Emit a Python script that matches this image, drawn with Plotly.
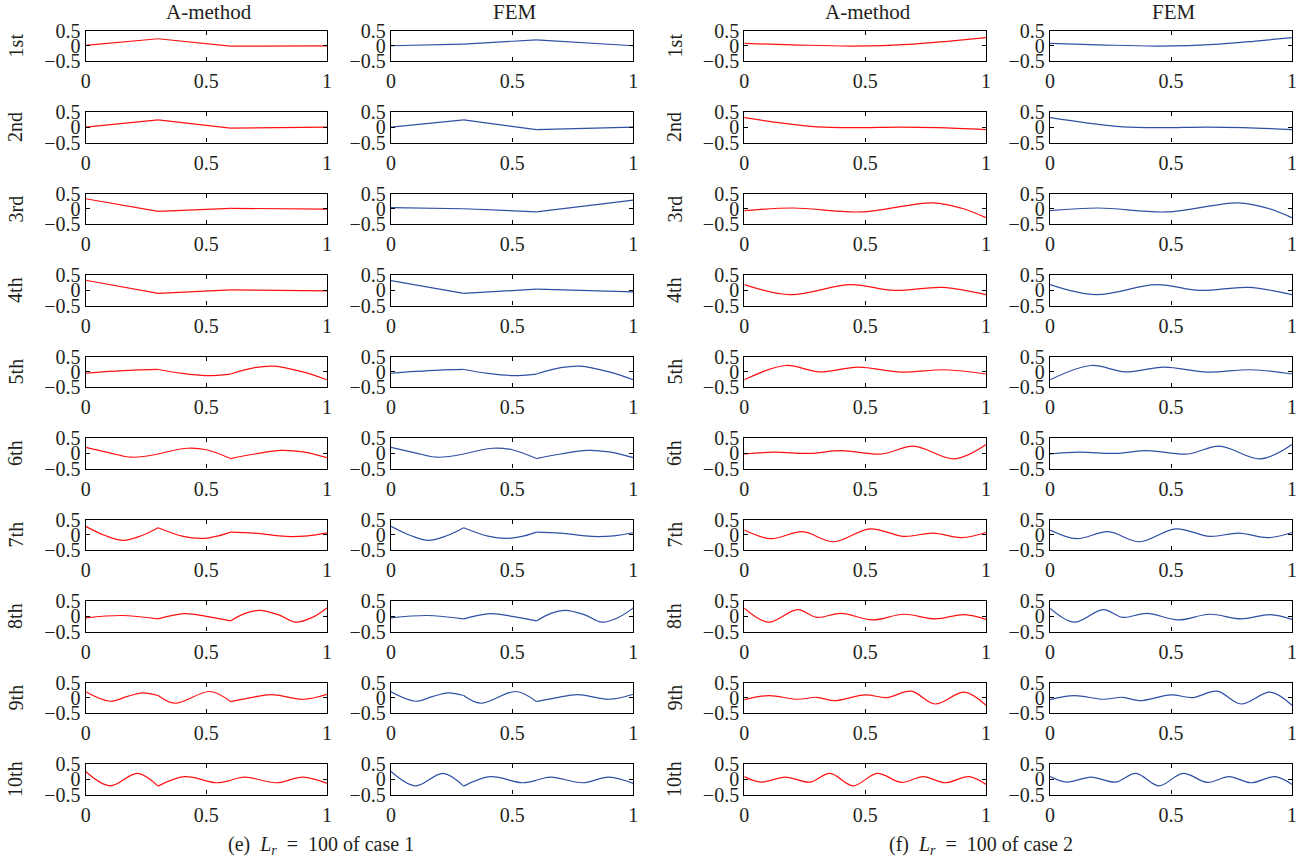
import plotly.graph_objects as go

# ---------------- data ----------------
modes = ["1st", "2nd", "3rd", "4th", "5th", "6th", "7th", "8th", "9th", "10th"]
col_titles = ["A-method", "FEM", "A-method", "FEM"]
x_tickvals = [0, 0.5, 1]
x_ticktext = ["0", "0.5", "1"]
y_tickvals = [-0.5, 0, 0.5]
y_ticktext = ["\u22120.5", "0", "0.5"]
kinks_case1 = [0.0, 0.3, 0.6, 1.0]

# case 1, A-method
c1a_1_x = [0, 0.3, 0.6, 1]
c1a_1_y = [0.015, 0.235, -0.01, 0.0]
c1a_2_x = [0, 0.3, 0.6, 1]
c1a_2_y = [0.01, 0.25, -0.025, 0.01]
c1a_3_x = [0, 0.3, 0.6, 1]
c1a_3_y = [0.335, -0.08, 0.02, -0.01]
c1a_4_x = [0, 0.3, 0.6, 1]
c1a_4_y = [0.335, -0.095, 0.015, -0.015]
c1a_5_x = [0, 0.1, 0.2, 0.3, 0.4, 0.5, 0.6, 0.7, 0.78, 0.9, 1]
c1a_5_y = [-0.045, 0.015, 0.06, 0.08, -0.05, -0.12, -0.07, 0.14, 0.19, 0.0, -0.26]
c1a_6_x = [0, 0.1, 0.19, 0.3, 0.42, 0.5, 0.6, 0.7, 0.81, 0.9, 1]
c1a_6_y = [0.2, 0.02, -0.125, -0.02, 0.17, 0.12, -0.17, -0.02, 0.1, 0.05, -0.14]
c1a_7_x = [0, 0.08, 0.155, 0.23, 0.3, 0.4, 0.48, 0.55, 0.6, 0.7, 0.83, 0.92, 1]
c1a_7_y = [0.28, -0.02, -0.18, -0.03, 0.235, -0.04, -0.115, -0.03, 0.093, 0.06, -0.05, -0.03, 0.07]
c1a_8_x = [0, 0.15, 0.3, 0.41, 0.5, 0.6, 0.66, 0.72, 0.8, 0.87, 0.94, 1]
c1a_8_y = [-0.05, 0.03, -0.08, 0.09, 0.0, -0.15, 0.1, 0.2, 0.05, -0.19, -0.03, 0.28]
c1a_9_x = [0, 0.1, 0.17, 0.235, 0.3, 0.37, 0.515, 0.6, 0.68, 0.77, 0.9, 1]
c1a_9_y = [0.2, -0.11, 0.04, 0.165, 0.08, -0.175, 0.21, -0.12, 0.0, 0.11, -0.045, 0.12]
c1a_10_x = [0, 0.1, 0.215, 0.3, 0.41, 0.54, 0.6, 0.66, 0.79, 0.9, 1]
c1a_10_y = [0.26, -0.21, 0.2, -0.22, 0.09, -0.11, -0.03, 0.077, -0.11, 0.077, -0.13]

# case 1, FEM (modes 1-4 differ from A-method; higher modes coincide)
c1f_1_x = [0, 0.3, 0.6, 1]
c1f_1_y = [0.005, 0.06, 0.2, 0.005]
c1f_2_x = [0, 0.3, 0.6, 1]
c1f_2_y = [0.01, 0.25, -0.075, 0.01]
c1f_3_x = [0, 0.3, 0.6, 1]
c1f_3_y = [0.04, 0.005, -0.095, 0.29]
c1f_4_x = [0, 0.3, 0.6, 1]
c1f_4_y = [0.32, -0.1, 0.04, -0.05]

# case 2 (A-method and FEM coincide)
c2_1_x = [0, 0.2, 0.45, 0.7, 0.85, 1]
c2_1_y = [0.08, 0.035, -0.005, 0.06, 0.16, 0.27]
c2_2_x = [0, 0.15, 0.3, 0.45, 0.65, 0.8, 1]
c2_2_y = [0.32, 0.15, 0.02, -0.01, 0.01, -0.01, -0.07]
c2_3_x = [0, 0.2, 0.48, 0.78, 0.9, 1]
c2_3_y = [-0.06, 0.03, -0.1, 0.2, 0.02, -0.29]
c2_4_x = [0, 0.19, 0.44, 0.62, 0.82, 1]
c2_4_y = [0.19, -0.14, 0.19, 0.0, 0.1, -0.14]
c2_5_x = [0, 0.17, 0.31, 0.47, 0.65, 0.83, 1]
c2_5_y = [-0.26, 0.21, 0.0, 0.16, -0.005, 0.07, -0.07]
c2_6_x = [0, 0.12, 0.27, 0.4, 0.57, 0.7, 0.87, 1]
c2_6_y = [-0.02, 0.04, 0.0, 0.09, -0.02, 0.24, -0.18, 0.29]
c2_7_x = [0, 0.11, 0.24, 0.37, 0.52, 0.66, 0.78, 0.9, 1]
c2_7_y = [0.16, -0.125, 0.105, -0.225, 0.2, -0.05, 0.06, -0.09, 0.08]
c2_8_x = [0, 0.1, 0.22, 0.3, 0.4, 0.53, 0.66, 0.79, 0.91, 1]
c2_8_y = [0.27, -0.19, 0.225, -0.03, 0.1, -0.115, 0.07, -0.08, 0.06, -0.1]
c2_9_x = [0, 0.1, 0.22, 0.3, 0.37, 0.5, 0.59, 0.69, 0.79, 0.91, 1]
c2_9_y = [-0.055, 0.077, -0.045, 0.02, -0.09, 0.1, 0.01, 0.22, -0.2, 0.19, -0.24]
c2_10_x = [0, 0.07, 0.17, 0.27, 0.355, 0.45, 0.55, 0.65, 0.74, 0.83, 0.93, 1]
c2_10_y = [0.09, -0.09, 0.077, -0.09, 0.2, -0.21, 0.2, -0.1, 0.09, -0.11, 0.09, -0.165]

case1_A = [(c1a_1_x, c1a_1_y), (c1a_2_x, c1a_2_y), (c1a_3_x, c1a_3_y), (c1a_4_x, c1a_4_y),
           (c1a_5_x, c1a_5_y), (c1a_6_x, c1a_6_y), (c1a_7_x, c1a_7_y), (c1a_8_x, c1a_8_y),
           (c1a_9_x, c1a_9_y), (c1a_10_x, c1a_10_y)]
case1_F = [(c1f_1_x, c1f_1_y), (c1f_2_x, c1f_2_y), (c1f_3_x, c1f_3_y), (c1f_4_x, c1f_4_y)] + case1_A[4:]
case2 = [(c2_1_x, c2_1_y), (c2_2_x, c2_2_y), (c2_3_x, c2_3_y), (c2_4_x, c2_4_y), (c2_5_x, c2_5_y),
         (c2_6_x, c2_6_y), (c2_7_x, c2_7_y), (c2_8_x, c2_8_y), (c2_9_x, c2_9_y), (c2_10_x, c2_10_y)]

# ---------------- layout geometry ----------------
W, H = 1312, 863
col_px = [(85.7, 327.0), (391.0, 633.3), (744.3, 986.0), (1050.0, 1292.0)]
row_top0, row_pitch, row_h = 30.7, 81.5, 30.4
RED = "#ff1111"
BLUE = "#2f4fa5"
FONT = "Liberation Serif"
TXT = "#231f20"

columns = [(case1_A, RED, True), (case1_F, BLUE, True), (case2, RED, False), (case2, BLUE, False)]

fig = go.Figure()
layout = {}
n = 0
for c, (data, color, split) in enumerate(columns):
    x0, x1 = col_px[c]
    for r in range(10):
        n += 1
        top = row_top0 + r * row_pitch
        sfx = "" if n == 1 else str(n)
        axis_common = dict(showline=True, linecolor="black", linewidth=1.3, mirror="ticks",
                           ticks="inside", ticklen=4, tickwidth=1, tickcolor="black",
                           showgrid=False, zeroline=False, fixedrange=True, automargin=False,
                           tickfont=dict(family=FONT, size=20, color=TXT))
        layout["xaxis" + sfx] = dict(axis_common, domain=[x0 / W, x1 / W], range=[0, 1],
                                     tickvals=x_tickvals, ticktext=x_ticktext,
                                     anchor="y" + sfx, ticklabelstandoff=2)
        layout["yaxis" + sfx] = dict(axis_common, domain=[1 - (top + row_h) / H, 1 - top / H],
                                     range=[-0.5, 0.5], tickvals=y_tickvals, ticktext=y_ticktext,
                                     anchor="x" + sfx)
        xs, ys = data[r]
        bounds = kinks_case1 if split else [0.0, 1.0]
        for b0, b1 in zip(bounds[:-1], bounds[1:]):
            idx = [i for i, xv in enumerate(xs) if b0 - 1e-9 <= xv <= b1 + 1e-9]
            fig.add_trace(go.Scatter(x=[xs[i] for i in idx], y=[ys[i] for i in idx],
                                     mode="lines", line=dict(color=color, width=1.2, shape="spline"),
                                     xaxis="x" + sfx, yaxis="y" + sfx, showlegend=False,
                                     hoverinfo="skip"))

annotations = []
for c in range(4):
    x0, x1 = col_px[c]
    annotations.append(dict(text=col_titles[c], x=((x0 + x1) / 2 + 3) / W, y=1 - 12.5 / H,
                            xref="paper", yref="paper", showarrow=False, xanchor="center",
                            yanchor="middle", font=dict(family=FONT, size=21, color=TXT)))
for c, lx in [(0, 15.5), (2, 674.5)]:
    for r in range(10):
        top = row_top0 + r * row_pitch
        annotations.append(dict(text=modes[r], x=lx / W, y=1 - (top + row_h / 2) / H,
                                xref="paper", yref="paper", showarrow=False, textangle=-90,
                                xanchor="center", yanchor="middle",
                                font=dict(family=FONT, size=20, color=TXT)))
annotations.append(dict(text="(e)  <i>L</i><sub><i>r</i></sub>  =  100 of case 1", x=321 / W, y=1 - 845 / H,
                        xref="paper", yref="paper", showarrow=False, xanchor="center", yanchor="middle",
                        font=dict(family=FONT, size=20, color=TXT)))
annotations.append(dict(text="(f)  <i>L</i><sub><i>r</i></sub>  =  100 of case 2", x=981 / W, y=1 - 845 / H,
                        xref="paper", yref="paper", showarrow=False, xanchor="center", yanchor="middle",
                        font=dict(family=FONT, size=20, color=TXT)))

fig.update_layout(**layout)
fig.update_layout(width=W, height=H, margin=dict(l=0, r=0, t=0, b=0, autoexpand=False),
                  paper_bgcolor="white", plot_bgcolor="white", annotations=annotations,
                  showlegend=False, template="none")
fig.write_html("out.html", config={"displayModeBar": False})
